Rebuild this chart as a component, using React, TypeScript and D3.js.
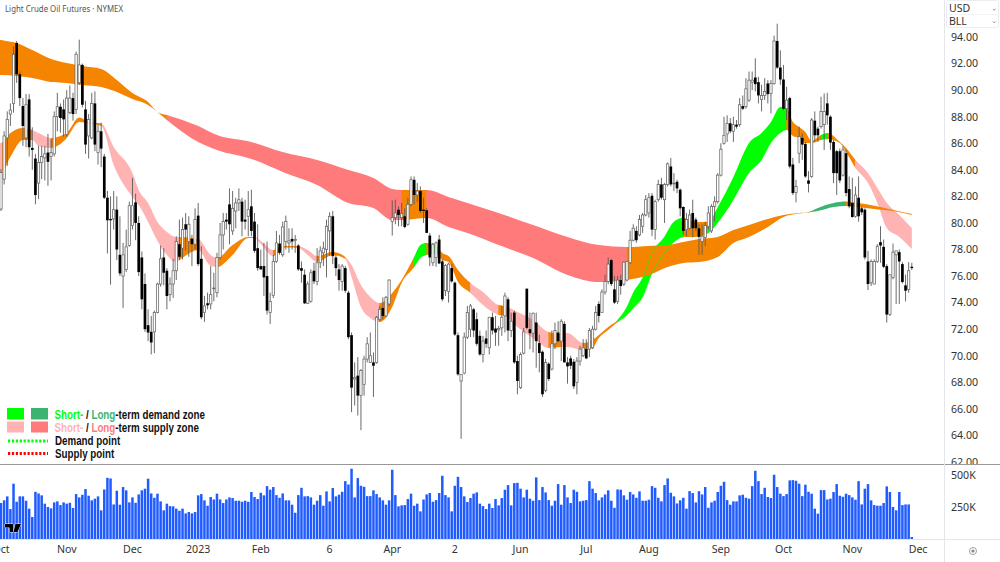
import * as d3 from "d3";

type Candle = [number, number, number, number]; // open, high, low, close
type BandKnot = [number, number, number]; // bar, upper, lower
type Span = [number, number, string];

const ORANGE = "#f58500";
const PALE_RED = "#ffb3b3";
const RED = "#ff7a7a";
const GREEN = "#00ff00";
const SEA_GREEN = "#3cb371";

const candles: Candle[] = [
  [81.05,84.05,80.9,83.8],[83.3,86.9,82.9,86.55],[86.4,88.4,84.3,87.8],[88.2,89,87.3,88.5],[89,93.3,88.3,92.7],
  [93.55,93.7,90.55,91.2],[91.2,91.4,88.8,89.4],[88.8,89.4,85.8,87.3],[86.4,89.7,85.7,88.9],[89.3,89.7,85,85.7],
  [85.65,87.2,84,85.5],[84.85,85.2,81.4,82.1],[83,85.8,81.8,84.55],[84.55,85.8,83.3,85],[84.9,85.8,83.2,85.2],
  [85.3,86.7,82.8,84.6],[85,86.3,83.2,85.3],[85.2,88.4,85,88],[88,89.8,86.9,88.75],[88.75,89,86.8,87.9],
  [88.55,89.3,86.5,87.8],[86.65,90,86.5,89.4],[88.3,90.35,88.2,89.4],[89.4,89.8,87.7,88.2],[88.55,92.9,88.2,92.7],
  [90.55,93.8,90.4,91.9],[91.9,92,88.7,88.9],[88.55,89.2,85.2,85.9],[86.55,88.2,84.85,87.8],[86.4,89.8,86.3,89],
  [89,89.9,85.4,85.9],[85.3,87.4,84.4,86.9],[86.9,87.55,84.2,85.6],[85,85.2,81.8,81.9],[81.9,82.4,77.7,80.2],
  [80.3,82,75.35,80.2],[80.3,82.4,79.5,81],[81,82,77.2,78],[77.6,80.5,76,76.2],[76,78.5,73.6,77.6],
  [76.5,79.5,76.3,78.2],[78.3,81.6,78.2,81.3],[79.8,83.4,79.5,81.3],[81.55,82.2,78.7,80],[80,80.5,76,76.3],
  [77.4,77.85,73.5,74.25],[75.4,76.2,71.8,72],[72.3,73.5,71.1,71.75],[71.8,73,70.1,71],[71.8,73.4,70.2,73.25],
  [73.25,75.5,73.2,75.4],[75.4,78.3,75.2,77.3],[77.4,78.1,75.3,76.25],[76.4,76.6,73.5,74.5],[74.6,75.9,74.1,75.4],
  [75.4,77.3,74.35,76.4],[76.4,79,75.7,78.6],[78.4,80.25,77.2,77.45],[78.1,80.4,77.25,79.5],[79.9,80.75,77.9,79.5],
  [78.6,80.5,77.45,79.9],[78.8,79.1,76.75,78.4],[78.4,81.1,78,80.25],[80.55,81.5,76.75,76.9],[77.3,78.25,72.75,72.9],
  [73.25,74.5,72.55,73.75],[73.95,74.75,73.5,73.8],[73.9,76.75,73.5,74.6],[75.05,76.25,74.1,75.1],[74.75,77.75,74.4,77.4],
  [77.4,80,77.25,79.1],[79.1,80.75,78,80.1],[80.25,80.75,79.5,80.1],[81.4,82.6,78.4,79.9],[79.4,82.4,79.1,81.1],
  [80.9,81.9,79.6,81.5],[81.5,82.6,80.9,81.75],[81.6,81.9,79,80.1],[80.25,81.75,79.5,80.1],[80.5,82.4,79,81],
  [81.25,82.5,79,79.4],[80.1,80.75,77.75,77.9],[78.1,79.9,76.4,76.6],[76.75,78,76.5,76.5],[76.75,78.5,74.5,75.9],
  [76,78.6,73.1,73.4],[73.25,74.75,72.4,74.1],[74.55,77.6,74.35,77.1],[77.1,79.4,77,78.5],[78.45,79.1,77.6,77.75],
  [77.6,80.1,77.45,79.7],[78.6,80.55,78,80.1],[78.5,79.6,77.75,78.65],[78.8,79.6,78,78.6],[78.72,79.1,77.75,78.75],
  [78.3,78.4,76.4,76.5],[76.6,77.1,75.5,76.4],[76.1,76.5,73.9,73.95],[73.95,75.6,73.9,75.4],[74.1,76.5,74,76.25],
  [76.4,77,75.4,75.6],[75.6,78.1,75.3,77],[77,78.25,76.6,77.9],[77.75,78.6,76.75,78.1],[78,80.25,75.9,79.75],
  [79.4,80.8,77.5,80.5],[80.5,80.9,76.9,77.5],[77.4,77.6,76,76.6],[76.5,76.9,74.9,75.7],[75.6,76.9,74.9,76.75],
  [76.6,76.75,74.75,74.9],[74.75,74.9,71.25,71.4],[71.55,71.75,65.75,67.6],[68.25,69.5,66.25,68.35],[68.5,69.9,65.5,67],
  [67,69,64.4,68.9],[67.85,70,67,69.75],[69.75,71.4,69.5,70.9],[69.5,71.75,69.5,70],[69.5,70.25,66.9,69.25],
  [69.5,73,69.4,72.9],[72.75,73.75,72.6,73.5],[73.6,74.4,72.75,73],[73,74.5,72.9,74.4],[73.9,75.75,73.75,75.7],
  [80.1,81.7,79.05,80.4],[80.4,81.75,79.9,80.75],[81,81.25,79.75,80.6],[80.4,81.5,79.75,80.7],[80.5,81.1,79.6,79.7],
  [79.9,81.9,79.8,81.4],[81.4,83.5,81.25,83.25],[83.25,83.5,81.4,82.1],[82.1,83,81.6,82.4],[82.4,82.75,80.75,80.9],
  [81,81.9,80,80.9],[80.95,81.1,79.25,79.25],[79.05,79.25,76.75,77.4],[77,78.5,76.75,78.4],[77.4,78.6,76.7,78.5],
  [78.75,79.1,76.9,76.95],[77.1,77.25,74.1,74.25],[74.9,76.9,74.5,76.8],[74.85,77,74,76.9],[76.6,76.9,75.5,75.6],
  [75.5,75.6,71.5,71.6],[71.55,71.75,68.5,68.6],[68.1,68.6,63.75,68.6],[68.7,71.75,68.6,71.4],[71.4,73.75,71.25,73.25],
  [72,73.9,71.4,73.75],[73.5,73.6,71.4,71.9],[72.75,73.25,70.75,70.9],[71.5,71.9,70,70.1],[70.1,71.5,69.5,71.1],
  [71.3,71.9,70.6,70.9],[70.6,72.9,70.1,72.9],[72.9,73.25,71.6,71.9],[72.05,73,70.75,71.75],[71.95,72.25,70.75,72.05],
  [72.1,73.75,71.5,72.9],[73,74.75,71.75,74.5],[74.25,74.4,71.1,71.9],[71.9,73.25,71.4,72.6],[73.25,73.4,69.4,69.5],
  [69.6,70,67.1,68.1],[67.6,70.25,67.5,70.1],[70.2,72.1,70.1,71.8],[75.05,75.05,72,72.1],[72,73.25,70.5,71.7],
  [71.7,73.25,70.25,73.2],[72.5,73.25,69.1,71.1],[70.95,71.6,68.75,70.2],[70.3,70.4,66.9,67.1],[67.4,69.75,67.25,69.5],
  [69.4,69.5,68.1,68.25],[69,71.9,68.9,70.9],[70.9,72.5,70.5,71.9],[71.75,72.6,71,71.1],[71.1,72.75,69.6,72.6],
  [72.4,72.6,69.5,69.5],[69.5,69.9,67.9,69.2],[69.8,70,69,69.25],[69.55,69.75,67.5,67.7],[68,69.9,67.1,69.6],
  [69.6,70.75,69.25,70.5],[70,71.25,69.9,70.6],[70.5,71.25,69.75,69.8],[70.5,72.1,69.9,71.9],[70.6,72.25,70.5,72],
  [72,73.75,71.9,73.25],[73.9,74.1,72.5,73],[73.25,75,73.25,74.8],[74.8,76.1,74.6,75.6],[75.6,77.4,75.4,76.9],
  [77.2,77.3,75.25,75.4],[75,76,73.9,74],[74.1,76,73.9,75.7],[75.7,76.1,74.6,75.25],[75.4,77.1,75.25,77.05],
  [75.7,77.1,75.6,77.1],[77,79.4,76.9,78.7],[78.7,79.9,78.6,79.6],[79.4,79.75,78.5,78.7],[79.1,80.6,79,80.25],
  [79.75,80.75,79.25,80.6],[80.6,82.1,80.5,81.75],[80.75,82.25,80.4,81.9],[82.05,82.25,79,79.5],[79.5,81.75,78.75,81.6],
  [81.75,83.25,81.6,82.9],[82.9,83.4,81.75,81.9],[81.75,83,80,82.9],[82.9,84.55,82.75,84.45],[84.25,84.9,82.75,82.9],
  [82.95,83.75,82.4,83],[83.1,83.25,82.25,82.6],[82.5,82.6,80.5,81.1],[81.2,81.25,79.1,79.4],[79.5,80.75,79,80.25],
  [79.6,81,79.5,80.6],[80.75,81.75,78.9,79.6],[80.25,80.4,79.4,79.6],[79.6,79.9,77.6,78.95],[78.6,79.9,77.6,79],
  [78.9,80.1,78.25,79.8],[79.75,81.25,79.5,80.75],[79.4,81.4,79.25,81.25],[81.25,82,80.1,81.6],[81.6,83.75,81.45,83.6],
  [83.6,86,83.5,85.55],[86,88,85.9,86.6],[86.7,88.1,86.1,87.5],[87.5,87.9,86.75,86.9],[86.9,88,86.1,87.4],
  [87.4,87.75,87.1,87.25],[87.4,89.4,87.25,88.9],[88.8,89.6,88.5,88.6],[88.75,90.9,88.6,90.1],[89.25,91.4,89.1,90.75],
  [90.6,91.4,90,90.75],[90.95,92.4,89.9,90.45],[90.6,91,89,89.6],[89.3,90.4,88.4,89.6],[89.6,90.9,89.25,89.9],
  [90.5,90.75,89,89.7],[89.75,90.75,88.25,90.5],[90.5,94.1,90.4,93.7],[93.7,95,91.6,91.7],[91.7,93,90.4,90.8],
  [90.8,91.9,88.5,88.6],[88.6,90.25,87.75,89.25],[89.4,89.5,84.1,84.25],[84.4,84.9,82.1,82.25],[82.3,83.25,81.55,82.75],
  [85.25,87.25,84.5,86.5],[86.4,86.75,84.75,85.9],[85.95,86.1,83.4,83.5],[83.2,83.9,82.3,82.95],[83.5,87.9,83.4,87.75],
  [87.7,88.4,86.1,86.6],[87.1,87.25,86.1,86.6],[87.25,89.5,87.1,88.4],[87.4,89.75,85.5,88.4],[89,89.8,87.4,88.1],
  [88,88.1,85.5,86.05],[86.1,86.25,83,83.75],[85.4,85.5,82.1,83.75],[85.4,85.6,83,83.2],[83.6,85.75,83.5,85.5],
  [85.25,85.5,82,82.25],[82.55,83.5,81.1,81.25],[81.5,83.4,80.4,80.45],[80.5,82.75,80.4,82.1],[81.9,83.5,80.1,80.5],
  [81.1,81.25,80.6,80.8],[81,81.1,77.25,77.4],[77.1,77.9,74.95,75.4],[75.5,77.25,75.25,77.1],[75.4,77.25,75.4,77.1],
  [77.1,78.4,77,78.25],[78.55,79.75,77,78.3],[78.2,78.75,76.6,76.7],[76.75,76.9,72.5,73.1],[73.1,76.1,73,76.1],
  [75.9,78.45,75.75,77.8],[77.6,77.9,73.9,77.9],[77.8,78,73.9,77.1],[76.9,77.05,75.45,75.55],[75.3,76.1,74.1,74.9],
  [75,77.05,74.75,76.4],[76.7,77,76.45,76.6],
];

// thousands of contracts
const volumes = [
  281,302,333,234,432,291,333,333,299,237,172,369,356,341,276,250,239,286,294,265,286,276,283,242,351,325,346,390,338,302,
  315,333,224,387,478,473,270,377,268,406,380,286,325,283,348,380,393,471,356,322,354,294,224,276,257,255,237,221,237,200,
  211,200,211,341,351,302,260,328,309,354,309,281,309,325,320,299,299,291,299,291,367,328,312,361,341,413,385,406,343,322,
  356,302,302,268,205,343,400,333,335,325,268,299,343,260,372,294,398,333,346,369,452,426,549,325,476,416,408,335,335,380,
  351,325,302,268,302,541,343,255,263,265,312,354,260,276,216,309,348,359,291,304,359,494,343,325,216,416,486,406,333,289,
  320,354,364,276,257,234,276,242,312,263,320,385,421,263,437,439,393,325,385,315,299,481,304,406,364,304,260,299,429,268,
  421,325,281,385,369,294,299,304,452,393,359,302,325,348,380,299,244,387,385,341,307,367,348,322,372,299,299,307,413,400,
  322,294,421,473,361,333,278,302,322,237,374,359,286,374,348,406,244,286,299,367,416,447,304,268,294,294,341,346,322,315,
  413,533,452,351,400,328,320,502,406,354,335,351,458,460,455,432,335,424,369,354,237,198,382,382,309,315,367,429,338,330,
  354,343,325,307,452,270,393,429,302,265,260,260,281,411,367,250,224,367,265,270,270,16,
];

const longBand: BandKnot[] = [
  [-1,93.85,91.15],[0,93.78,91.14],[5,93.55,91.07],[10,93.02,90.92],[16,92.35,90.62],[21,92.05,90.54],[26,91.82,90.39],
  [32,91.6,90.24],[37,90.77,89.86],[42,89.79,89.33],[47,89.1,88.88],[50,88.36,88.36],[53,88.13,87.75],[63,87.3,86.1],
  [69,86.62,85.5],[80,86.1,84.82],[90,85.34,83.84],[101,84.74,82.86],[111,83.99,81.5],[119,83.39,81.13],[125,82.56,80.22],
  [128,82.48,80.22],[136,82.48,80.37],[143,81.96,79.7],[149,81.5,79.24],[159,80.75,78.34],[170,79.85,77.36],[181,78.95,76.08],
  [191,78.34,75.55],[200,78.19,75.71],[207,78.27,76.08],[213,78.34,76.68],[218,78.57,76.99],[223,78.79,77.06],[229,78.95,77.44],
  [234,79.47,78.49],[239,79.85,78.95],[245,80.3,79.7],[250,80.6,80.45],[255,80.75,80.71],[258,80.83,80.79],[261,81.13,80.9],
  [266,81.5,81.2],[270,81.61,81.27],[273,81.54,81.2],[281,81.2,81],[285,80.98,80.9],[291,80.68,80.6],
];

const shortBand: BandKnot[] = [
  [-1,86.02,83.76],[0,86.02,83.76],[3,86.77,84.97],[7,87.15,86.25],[10,87,86.25],[12,86.77,85.8],[16,86.4,85.65],[19,86.55,85.95],
  [21,86.77,86.4],[25,87.94,87.6],[28,87.6,87.49],[32,87.49,87.3],[36,85.72,84.36],[42,83.76,81.96],[44,82.48,81.35],[47,81.5,80.07],
  [50,80.07,78.64],[53,79.32,77.59],[56,78.95,77.06],[57,78.95,77.21],[63,78.79,77.97],[67,77.59,76.76],[69,77.36,76.68],[74,78.34,77.59],
  [79,78.95,78.87],[81,78.95,78.87],[83,78.64,78.42],[87,77.96,77.51],[89,78.19,77.81],[90,78.27,78.12],[92,78.27,78.15],[95,78.27,78.12],
  [98,77.96,77.59],[101,77.51,77.06],[106,77.81,77.59],[110,77.44,77.29],[112,76.83,75.93],[115,75.33,73.67],[118,74.43,72.84],[121,73.97,72.54],
  [125,74.73,73.67],[128,75.7,75.48],[132,77.44,76.68],[134,78.34,77.36],[136,78.49,77.59],[138,78.42,77.66],[139,78.34,77.66],[141,77.74,77.21],
  [143,77.51,77.06],[146,76.46,75.55],[150,75.48,74.73],[154,74.8,73.82],[159,73.82,73.07],[161,73.75,73],[165,73.3,72.17],[170,72.7,71.34],
  [175,71.79,70.59],[179,71.64,70.66],[181,71.71,70.66],[186,70.96,70.43],[189,71.19,70.59],[191,71.56,71.34],[194,72.17,71.94],[197,72.69,72.54],
  [200,73.67,73.07],[202,74.73,73.6],[205,75.86,74.43],[208,77.74,76.23],[212,78.95,77.74],[215,80.07,78.57],[218,80.37,78.95],[222,80.07,78.95],
  [226,80.07,79.24],[229,81.2,80],[234,83.46,81.73],[239,86.02,83.76],[243,86.77,84.74],[246,87.6,86.02],[249,88.73,86.77],[251,88.66,87],
  [253,87.6,86.55],[255,87.23,86.4],[257,86.85,86.02],[259,86.17,86.02],[262,86.62,86.25],[264,86.77,86.32],[268,86.1,86.02],[270,85.65,85.34],
  [273,84.74,84.14],[277,83.76,83.01],[280,82.63,81.5],[283,81.5,79.62],[287,80.6,78.95],[291,79.62,78.04],
];

// which colour each stretch of a band takes
const longSpans: Span[] = [
  [-1,53,ORANGE],[53,128,RED],[128,136,ORANGE],[136,200,RED],[200,258,ORANGE],[258,270,SEA_GREEN],[270,291,ORANGE],
];
const shortSpans: Span[] = [
  [-1,0.5,PALE_RED],[0.5,10,ORANGE],[10,16,PALE_RED],[16,28,ORANGE],[28,29,GREEN],[29,32,ORANGE],[32,57,PALE_RED],[57,63,ORANGE],
  [63,69,PALE_RED],[69,81,ORANGE],[81,87,PALE_RED],[87,95,ORANGE],[95,101,PALE_RED],[101,110,ORANGE],[110,121,PALE_RED],[121,132,ORANGE],
  [132,136,GREEN],[136,138,ORANGE],[138,139,GREEN],[139,150,ORANGE],[150,159,PALE_RED],[159,161,ORANGE],[161,175,PALE_RED],[175,179,ORANGE],
  [179,186,PALE_RED],[186,197,ORANGE],[197,218,GREEN],[218,226,ORANGE],[226,251,GREEN],[251,262,ORANGE],[262,264,GREEN],[264,273,ORANGE],[273,291,PALE_RED],
];

const priceTicks = [94,92,90,88,86,84,82,80,78,76,74,72,70,68,66,64,62];
const volumeTicks = [500,250];
const timeLabels = ["Oct","Nov","Dec","2023","Feb","6","Apr","2","Jun","Jul","Aug","Sep","Oct","Nov","Dec"];
const timeBars = [0,21,42,63,83,105,125,145,166,187,207,230,250,272,293];

const x = d3.scaleLinear().domain([0, 291]).range([1, 911.8]);
const y = d3.scaleLinear().domain([94, 62]).range([37, 462]);
const yVol = d3.scaleLinear().domain([0, 500]).range([539, 475]);

const bandArea = d3.area<BandKnot>()
  .x(d => x(d[0]))
  .y0(d => y(d[2]))
  .y1(d => y(d[1]))
  .curve(d3.curveMonotoneX);
const upperLine = d3.line<BandKnot>().x(d => x(d[0])).y(d => y(d[1])).curve(d3.curveMonotoneX);
const lowerLine = d3.line<BandKnot>().x(d => x(d[0])).y(d => y(d[2])).curve(d3.curveMonotoneX);

const AXIS_FONT = "'Noto Sans', sans-serif";
const LEGEND_FONT = "'Liberation Sans', Arial, sans-serif";

function Band({ knots, spans, id }: { knots: BandKnot[]; spans: Span[]; id: string }) {
  const path = bandArea(knots)!;
  return (
    <g>
      {spans.map(([from, to, colour], i) => (
        <g key={i}>
          <clipPath id={`${id}-${i}`}>
            <rect x={x(from) - 0.3} y={0} width={x(to) - x(from) + 0.6} height={465} />
          </clipPath>
          <path d={path} fill={colour} clipPath={`url(#${id}-${i})`} />
        </g>
      ))}
    </g>
  );
}

export default function App() {
  const barW = 2.3;
  const crossing = shortSpans.filter(s => s[0] === 197);
  return (
    <svg width={1000} height={562} style={{ position: "absolute", left: 0, top: 0, background: "#fff" }}>
      <clipPath id="pane"><rect x={0} y={0} width={944} height={464} /></clipPath>
      <clipPath id="axis-clip"><rect x={945} y={0} width={55} height={464} /></clipPath>

      <text x={5} y={11.5} fontFamily={AXIS_FONT} fontSize={9} fill="#555" textLength={118} lengthAdjust="spacingAndGlyphs">Light Crude Oil Futures · NYMEX</text>

      <g clipPath="url(#pane)">
        <Band knots={shortBand} spans={shortSpans} id="short" />
        <Band knots={longBand} spans={longSpans} id="long" />
        {crossing.map(([from, to], i) => (
          <g key={i}>
            <clipPath id={`cross-${i}`}><rect x={x(from)} y={0} width={x(to) - x(from)} height={465} /></clipPath>
            <g clipPath={`url(#cross-${i})`} fill="none" stroke={GREEN} strokeWidth={0.6}>
              <path d={upperLine(shortBand)!} />
              <path d={lowerLine(shortBand)!} />
            </g>
          </g>
        ))}
        {candles.map(([o, h, l, c], i) => {
          const up = c >= o;
          const top = y(Math.max(o, c));
          const bottom = y(Math.min(o, c));
          return (
            <g key={i}>
              <line x1={x(i)} x2={x(i)} y1={y(h)} y2={y(l)} stroke="#5a5a5a" strokeWidth={0.9} />
              {up ? (
                <rect x={x(i) - barW / 2} y={top} width={barW} height={Math.max(bottom - top, 0.8)} fill="#fff" stroke="#666" strokeWidth={0.75} />
              ) : (
                <rect x={x(i) - barW / 2 - 0.2} y={top} width={barW + 0.4} height={Math.max(bottom - top, 1)} fill="#000" />
              )}
            </g>
          );
        })}
      </g>

      {/* volume pane */}
      {volumes.map((v, i) => (
        <rect key={i} x={x(i) - 1.25} y={yVol(v)} width={2.5} height={yVol(0) - yVol(v)} fill="#1f5bff" />
      ))}
      <g fill="#000" stroke="#fff" strokeWidth={0.8} paintOrder="stroke">
        <path d="M5 524h8v8h-3.4v-4.6H5z" />
        <path d="M15.5 524h5.5l-3.5 8h-4z" />
      </g>

      {/* frame */}
      <line x1={0} x2={1000} y1={464.5} y2={464.5} stroke="#999" strokeWidth={1.2} />
      <line x1={0} x2={1000} y1={539.5} y2={539.5} stroke="#e4e6ec" strokeWidth={1} />
      <line x1={944.5} x2={944.5} y1={0} y2={562} stroke="#e4e6ec" strokeWidth={1} />

      {/* axes */}
      <g clipPath="url(#axis-clip)" fontFamily={AXIS_FONT} fontSize={10.6} fill="#333">
        {priceTicks.map(p => (
          <text key={p} x={951} y={y(p)} dy="0.36em">{p.toFixed(2)}</text>
        ))}
      </g>
      <g fontFamily={AXIS_FONT} fontSize={10.6} fill="#333">
        {volumeTicks.map(v => (
          <text key={v} x={951} y={yVol(v)} dy="0.36em">{v}K</text>
        ))}
        {timeLabels.map((t, i) => (
          <text key={i} x={x(timeBars[i])} y={553} textAnchor="middle">{t}</text>
        ))}
      </g>

      {/* currency and unit selectors */}
      <rect x={946.5} y={0.5} width={52} height={27} rx={2} fill="#fff" stroke="#eceef2" />
      <line x1={946.5} x2={998.5} y1={14.5} y2={14.5} stroke="#f2f3f6" />
      <g fontFamily={AXIS_FONT} fontSize={10.5} fill="#333">
        <text x={949} y={12}>USD</text>
        <text x={949} y={24.5}>BLL</text>
      </g>
      <path d="M993 9l1.2 1.2 1.2-1.2 M993 21.5l1.2 1.2 1.2-1.2" fill="none" stroke="#555" strokeWidth={0.7} />
      <circle cx={973} cy={551} r={3.5} fill="none" stroke="#888" strokeWidth={0.8} />
      <circle cx={973} cy={551} r={1.6} fill="#888" />

      {/* legend */}
      <rect x={7} y={408} width={17} height={11.5} fill={GREEN} />
      <rect x={31} y={408} width={17} height={11.5} fill={SEA_GREEN} />
      <rect x={7} y={421.5} width={17} height={11} fill={PALE_RED} />
      <rect x={31} y={421.5} width={17} height={11} fill={RED} />
      <line x1={8} x2={48} y1={441} y2={441} stroke={GREEN} strokeWidth={2.8} strokeDasharray="2.2 1.7" />
      <line x1={8} x2={48} y1={453.5} y2={453.5} stroke="#ff0000" strokeWidth={2.8} strokeDasharray="2.2 1.7" />
      <g fontFamily={LEGEND_FONT} fontSize={12} fontWeight={700} fill="#111">
        <text transform="translate(54.5,418.5) scale(0.815,1)">
          <tspan fill={GREEN}>Short-</tspan> / <tspan fill={SEA_GREEN}>Long</tspan>-term demand zone
        </text>
        <text transform="translate(54.5,431.5) scale(0.815,1)">
          <tspan fill={PALE_RED}>Short-</tspan> / <tspan fill={RED}>Long</tspan>-term supply zone
        </text>
        <text transform="translate(55,445) scale(0.815,1)">Demand point</text>
        <text transform="translate(55,457.5) scale(0.815,1)">Supply point</text>
      </g>
    </svg>
  );
}
